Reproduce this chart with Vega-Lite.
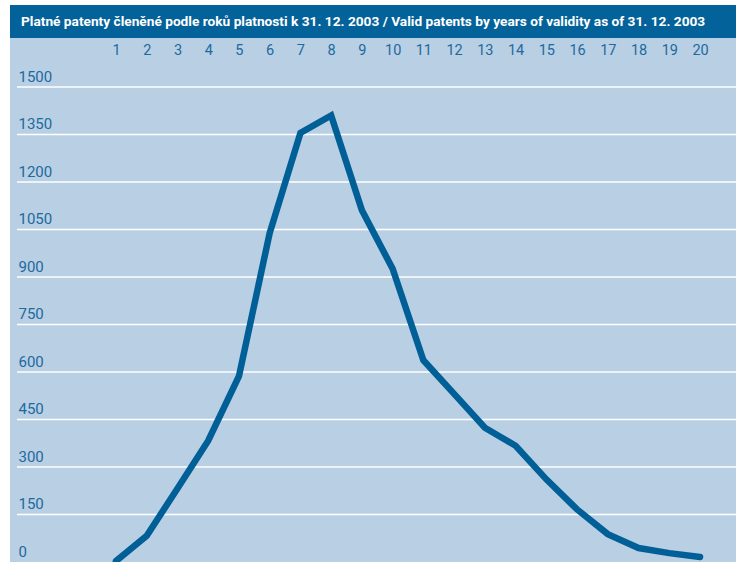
{
  "$schema": "https://vega.github.io/schema/vega-lite/v6.json",
  "width": 726,
  "height": 557,
  "padding": {"left": 10, "top": 5, "right": 0, "bottom": 0},
  "autosize": {"type": "none"},
  "background": "white",
  "config": {
    "view": {"fill": "#b9cfe4", "stroke": null},
    "axis": {"labelOverlap": false, "labelFlush": false, "domain": false, "ticks": false, "grid": false, "title": null, "labelFont": "Roboto", "labelColor": "#1c6a9e", "zindex": 1}
  },
  "encoding": {
    "x": {"type": "quantitative", "scale": {"domain": [-2.448, 21.17], "nice": false, "zero": false},
      "axis": {"orient": "top", "values": [1,2,3,4,5,6,7,8,9,10,11,12,13,14,15,16,17,18,19,20], "format": "d", "labelPadding": -52, "labelFontSize": 14.5, "labelOverlap": false}},
    "y": {"type": "quantitative", "scale": {"domain": [0, 1759], "nice": false, "zero": false},
      "axis": {"orient": "left", "values": [0,150,300,450,600,750,900,1050,1200,1350,1500], "format": "d", "labelAlign": "left", "labelBaseline": "alphabetic", "labelPadding": -8, "labelOffset": -6, "labelFontSize": 15, "labelOverlap": false}}
  },
  "layer": [
    {
      "data": {"values": [{"title": "Platné patenty členěné podle roků platnosti k 31. 12. 2003 / Valid patents by years of validity as of 31. 12. 2003"}]},
      "mark": {"type": "rect", "color": "#03629a"},
      "encoding": {
        "x": {"datum": -2.448},
        "x2": {"datum": 21.17},
        "y": {"datum": 1655},
        "y2": {"datum": 1759}
      }
    },
    {
      "data": {"values": [{"title": "Platné patenty členěné podle roků platnosti k 31. 12. 2003 / Valid patents by years of validity as of 31. 12. 2003"}]},
      "mark": {"type": "text", "color": "white", "font": "Roboto", "fontSize": 13.7, "fontWeight": "bold", "align": "left", "baseline": "middle"},
      "encoding": {
        "x": {"datum": -2.09},
        "y": {"datum": 1705},
        "text": {"field": "title"}
      }
    },
    {
      "data": {"values": [{"g": 150}, {"g": 300}, {"g": 450}, {"g": 600}, {"g": 750}, {"g": 900}, {"g": 1050}, {"g": 1200}, {"g": 1350}, {"g": 1500}]},
      "mark": {"type": "rule", "color": "white", "strokeWidth": 1.5},
      "encoding": {
        "x": {"datum": -2.22},
        "x2": {"datum": 21.17},
        "y": {"field": "g"}
      }
    },
    {
      "data": {"values": [
        {"year": 1, "patents": 3},
        {"year": 2, "patents": 83},
        {"year": 3, "patents": 232},
        {"year": 4, "patents": 383},
        {"year": 5, "patents": 587},
        {"year": 6, "patents": 1039},
        {"year": 7, "patents": 1355},
        {"year": 8, "patents": 1410},
        {"year": 9, "patents": 1111},
        {"year": 10, "patents": 926},
        {"year": 11, "patents": 637},
        {"year": 12, "patents": 531},
        {"year": 13, "patents": 424},
        {"year": 14, "patents": 367},
        {"year": 15, "patents": 261},
        {"year": 16, "patents": 166},
        {"year": 17, "patents": 88},
        {"year": 18, "patents": 44},
        {"year": 19, "patents": 28},
        {"year": 20, "patents": 16}
      ]},
      "mark": {"type": "line", "color": "#005f97", "strokeWidth": 6.5, "strokeCap": "round", "strokeJoin": "miter", "clip": true},
      "encoding": {
        "x": {"field": "year"},
        "y": {"field": "patents"}
      }
    }
  ]
}
